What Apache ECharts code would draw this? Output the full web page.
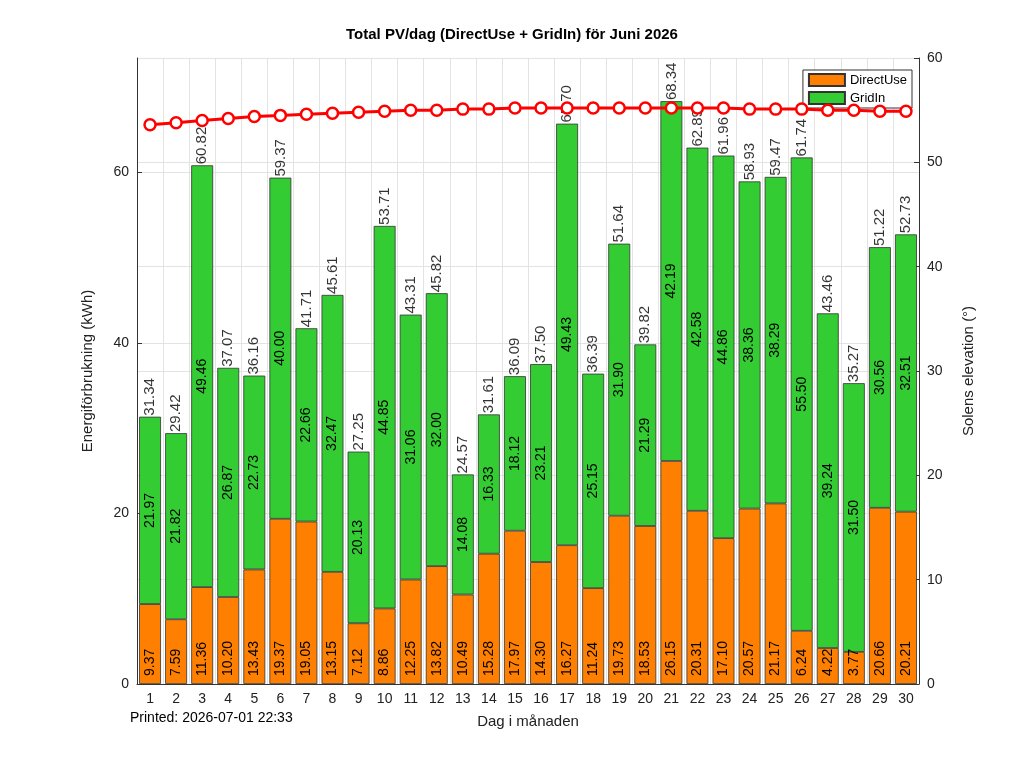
<!DOCTYPE html>
<html><head><meta charset="utf-8">
<script src="https://cdn.jsdelivr.net/npm/echarts@6/dist/echarts.min.js"></script>
<style>html,body{margin:0;background:#fff}#c{width:1024px;height:768px}</style>
</head><body><div id="c"></div>
<script>
// data
const days = Array.from({length: 30}, (_, i) => String(i + 1));
const directUse = [9.37,7.59,11.36,10.20,13.43,19.37,19.05,13.15,7.12,8.86,12.25,13.82,10.49,15.28,17.97,14.30,16.27,11.24,19.73,18.53,26.15,20.31,17.10,20.57,21.17,6.24,4.22,3.77,20.66,20.21];
const gridIn = [21.97,21.82,49.46,26.87,22.73,40.00,22.66,32.47,20.13,44.85,31.06,32.00,14.08,16.33,18.12,23.21,49.43,25.15,31.90,21.29,42.19,42.58,44.86,38.36,38.29,55.50,39.24,31.50,30.56,32.51];
const totals = [31.34,29.42,60.82,37.07,36.16,59.37,41.71,45.61,27.25,53.71,43.31,45.82,24.57,31.61,36.09,37.50,65.70,36.39,51.64,39.82,68.34,62.89,61.96,58.93,59.47,61.74,43.46,35.27,51.22,52.73];
const sunElev = [53.6,53.8,54.0,54.2,54.4,54.5,54.6,54.7,54.8,54.9,55.0,55.0,55.1,55.1,55.2,55.2,55.2,55.2,55.2,55.2,55.2,55.2,55.2,55.1,55.1,55.1,55.0,55.0,54.9,54.9];

const FONT = 'Liberation Sans';
const chart = echarts.init(document.getElementById('c'));
const fmt = p => Number(p.value).toFixed(2);
const vLabel = (pos, extra) => Object.assign({
  show: true, position: pos, rotate: 90, formatter: fmt,
  fontSize: 14, color: '#000', fontFamily: FONT
}, extra || {});

chart.setOption({
  animation: false,
  textStyle: { fontFamily: FONT },
  title: { text: 'Total PV/dag (DirectUse + GridIn) för Juni 2026', left: 'center', top: 22,
    textStyle: { fontSize: 15, fontWeight: 'bold', color: '#000', fontFamily: FONT } },
  legend: {
    right: 112, top: 70, orient: 'vertical', itemGap: 4, itemWidth: 36, itemHeight: 12, icon: 'rect',
    backgroundColor: '#fff', borderColor: '#333', borderWidth: 1, padding: [3, 5],
    data: ['DirectUse', 'GridIn'], textStyle: { fontSize: 13, color: '#000', fontFamily: FONT }
  },
  grid: { left: 137, right: 105, top: 58, bottom: 84 },
  xAxis: {
    type: 'category', data: days, name: 'Dag i månaden', nameLocation: 'middle', nameGap: 30,
    nameTextStyle: { fontSize: 15, color: '#222' },
    axisLine: { lineStyle: { color: '#333' } }, axisTick: { show: false },
    axisLabel: { color: '#222', fontSize: 14 },
    splitLine: { show: true, lineStyle: { color: '#e3e3e3' } }
  },
  yAxis: [{
    type: 'value', min: 0, max: 73.4, interval: 20, name: 'Energiförbrukning (kWh)',
    nameLocation: 'middle', nameGap: 42, nameTextStyle: { fontSize: 15, color: '#222' },
    axisLine: { show: true, lineStyle: { color: '#333' } }, axisTick: { show: true, inside: true },
    axisLabel: { color: '#222', fontSize: 14, showMaxLabel: false },
    splitLine: { lineStyle: { color: '#e3e3e3' } }
  }, {
    type: 'value', min: 0, max: 60, interval: 10, name: 'Solens elevation (°)',
    nameLocation: 'middle', nameGap: 42, nameTextStyle: { fontSize: 15, color: '#222' },
    axisLine: { show: true, lineStyle: { color: '#333' } }, axisTick: { show: true, inside: true },
    axisLabel: { color: '#222', fontSize: 14 },
    splitLine: { lineStyle: { color: '#e3e3e3' } }
  }],
  series: [{
    name: 'DirectUse', type: 'bar', stack: 'pv', data: directUse, barCategoryGap: '16%',
    itemStyle: { color: '#ff8000', borderColor: '#333', borderWidth: 0.8 },
    label: vLabel('insideBottom', { align: 'left', verticalAlign: 'middle', distance: 8 })
  }, {
    name: 'GridIn', type: 'bar', stack: 'pv', data: gridIn,
    itemStyle: { color: '#33cc33', borderColor: '#333', borderWidth: 0.8 },
    label: vLabel('inside', { align: 'center', verticalAlign: 'middle' })
  }, {
    name: 'Total', type: 'scatter', data: totals, symbolSize: 0.1, z: 5,
    label: vLabel('top', { align: 'left', verticalAlign: 'middle', distance: 1, fontSize: 15 })
  }, {
    name: 'Elevation', type: 'line', yAxisIndex: 1, data: sunElev, z: 6,
    symbol: 'circle', symbolSize: 11,
    lineStyle: { color: '#ff0000', width: 3 },
    itemStyle: { color: '#fff', borderColor: '#ff0000', borderWidth: 2.5 }
  }],
  graphic: [{ type: 'text', left: 130, top: 711,
    style: { text: 'Printed: 2026-07-01 22:33', fontSize: 14, fill: '#000', fontFamily: FONT } }]
});
</script></body></html>
